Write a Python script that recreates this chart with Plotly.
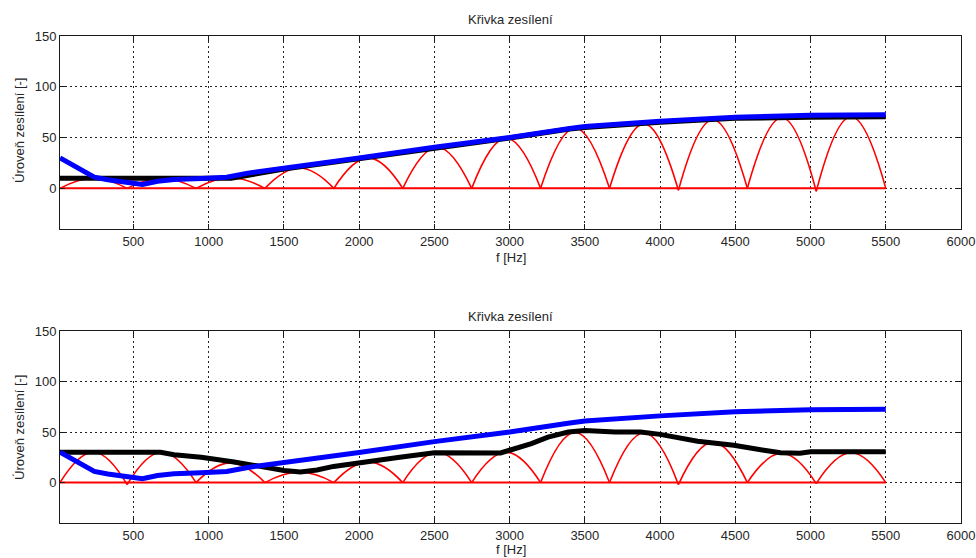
import plotly.graph_objects as go

# ---------------- data ----------------
# blue curve (same in both panels)
blue_f = [12, 130, 240, 330, 460, 560, 660, 770, 950, 1120, 1260, 1390, 1500,
          2000, 2500, 3000, 3400, 3500, 4000, 4500, 5000, 5500]
blue_g = [30, 20, 11, 8.5, 6, 3.8, 7, 8.8, 9.8, 11, 15, 17.5, 20,
          29.8, 40.5, 50, 59, 61, 66, 70, 72, 72.5]

# black curve, top panel
black_top_f = [12, 1150, 1500, 2000, 2500, 3000, 3400, 3500, 4000, 4500, 5000, 5500]
black_top_g = [10, 10, 19, 29, 39.5, 49.5, 58.5, 60, 65, 69, 70, 70.5]

# black curve, bottom panel
black_bot_f = [12, 680, 770, 950, 1170, 1345, 1500, 1610, 1720, 1830, 2000, 2270,
               2500, 2720, 2830, 2940, 3000, 3145, 3255, 3390, 3500, 3700, 3870,
               4000, 4250, 4490, 4690, 4800, 4930, 5000, 5500]
black_bot_g = [30, 30, 27.5, 25, 20.4, 15.5, 12, 10.5, 12.5, 16, 19, 25,
               29.6, 29.6, 28.6, 29.3, 32, 38.5, 45, 50, 51.5, 50, 50,
               47.7, 41, 37, 32, 29.6, 29, 30.5, 30.5]

# red arches: zero crossings (with their values) and peak heights
arch_zero_f = [12, 458, 916, 1374, 1832, 2290, 2748, 3206, 3664, 4122, 4580, 5038, 5500]
arch_zero_top = [0, 0, 0, 0, 0, 0, 0, 0, 0, -2, 0, -3, 0]
arch_zero_bot = [0, -2, 0, 0, 0, 0, 0, 0, 0, -2, 0, -1, 0]
arch_peak_top = [10, 10, 10.5, 20, 30, 40.5, 49.5, 59.5, 63.5, 67.5, 69.5, 70.5]
arch_peak_bot = [30, 30, 19.5, 10.5, 20.5, 30, 30, 49.5, 49, 40, 29, 29.5]

zero_f = [12, 5500]
zero_g = [0, 0]

title_text = "Křivka zesílení"
xlabel = "f [Hz]"
ylabel = "Úroveň zesílení [-]"
x_ticks = [500, 1000, 1500, 2000, 2500, 3000, 3500, 4000, 4500, 5000, 5500, 6000]
y_ticks = [0, 50, 100, 150]

# ---------------- figure ----------------
FONT = "Liberation Sans, Arial, sans-serif"
TXT = "#262626"
FS = 13
fig = go.Figure()


def arch_xy(zf, zg, peaks):
    xs, ys = [], []
    for i, p in enumerate(peaks):
        a, b = zf[i], zf[i + 1]
        xs += [a, (a + b) / 2, b, None]
        ys += [zg[i], p, zg[i + 1], None]
    return xs, ys


panels = [
    ("x", "y", black_top_f, black_top_g, arch_zero_top, arch_peak_top),
    ("x2", "y2", black_bot_f, black_bot_g, arch_zero_bot, arch_peak_bot),
]
for xa, ya, bf, bg, zg, pk in panels:
    fig.add_trace(go.Scatter(x=zero_f, y=zero_g, mode="lines", xaxis=xa, yaxis=ya,
                             line=dict(color="#ff0000", width=2), showlegend=False))
    ax, ay = arch_xy(arch_zero_f, zg, pk)
    fig.add_trace(go.Scatter(x=ax, y=ay, mode="lines", xaxis=xa, yaxis=ya,
                             connectgaps=False,
                             line=dict(color="#ff0000", width=1.6, shape="spline", smoothing=1.3),
                             showlegend=False))
    fig.add_trace(go.Scatter(x=bf, y=bg, mode="lines", xaxis=xa, yaxis=ya,
                             line=dict(color="#000000", width=5), showlegend=False))
    fig.add_trace(go.Scatter(x=blue_f, y=blue_g, mode="lines", xaxis=xa, yaxis=ya,
                             line=dict(color="#0000ff", width=5), showlegend=False))

W, H = 976, 558
ml, mr, mt, mb = 60, 15, 36, 35
ph = H - mt - mb
top_dom = [1 - (229 - 36) / ph, 1]
bot_dom = [0, (523 - 331) / ph]

axis_common = dict(
    showline=True, linecolor="#1a1a1a", linewidth=1, mirror="ticks",
    ticks="inside", ticklen=5, tickcolor="#1a1a1a", tickwidth=1,
    showgrid=True, gridcolor="#222222", gridwidth=1, griddash="2px,3px",
    zeroline=False, automargin=False,
    tickfont=dict(family=FONT, size=FS, color=TXT),
)

fig.update_layout(
    width=W, height=H,
    margin=dict(l=ml, r=mr, t=mt, b=mb, autoexpand=False),
    paper_bgcolor="white", plot_bgcolor="white",
    font=dict(family=FONT, size=FS, color=TXT),
    hovermode=False,
    xaxis=dict(domain=[0, 1], anchor="y", range=[12, 6000], tickvals=x_ticks, **axis_common),
    yaxis=dict(domain=top_dom, anchor="x", range=[-40, 150], tickvals=y_ticks, **axis_common),
    xaxis2=dict(domain=[0, 1], anchor="y2", range=[12, 6000], tickvals=x_ticks, **axis_common),
    yaxis2=dict(domain=bot_dom, anchor="x2", range=[-40, 150], tickvals=y_ticks, **axis_common),
)


def py2paper(py):
    return (H - mb - py) / ph


def px2paper(px):
    return (px - ml) / (W - ml - mr)


ann = []
for ty, xy, ly in [(20, 257, 130), (316, 549, 427)]:
    ann.append(dict(text=title_text, x=0.5, y=py2paper(ty), xref="paper", yref="paper",
                    showarrow=False, xanchor="center", yanchor="middle",
                    font=dict(family=FONT, size=FS, color=TXT)))
    ann.append(dict(text=xlabel, x=0.5, y=py2paper(xy), xref="paper", yref="paper",
                    showarrow=False, xanchor="center", yanchor="middle",
                    font=dict(family=FONT, size=FS, color=TXT)))
    ann.append(dict(text=ylabel, x=px2paper(19), y=py2paper(ly), xref="paper", yref="paper",
                    showarrow=False, xanchor="center", yanchor="middle", textangle=-90,
                    font=dict(family=FONT, size=FS, color=TXT)))
fig.update_layout(annotations=ann)

fig.write_html(
    "out.html",
    config={"displayModeBar": False},
    post_script="document.body.style.margin='0';document.body.style.overflow='hidden';",
)
